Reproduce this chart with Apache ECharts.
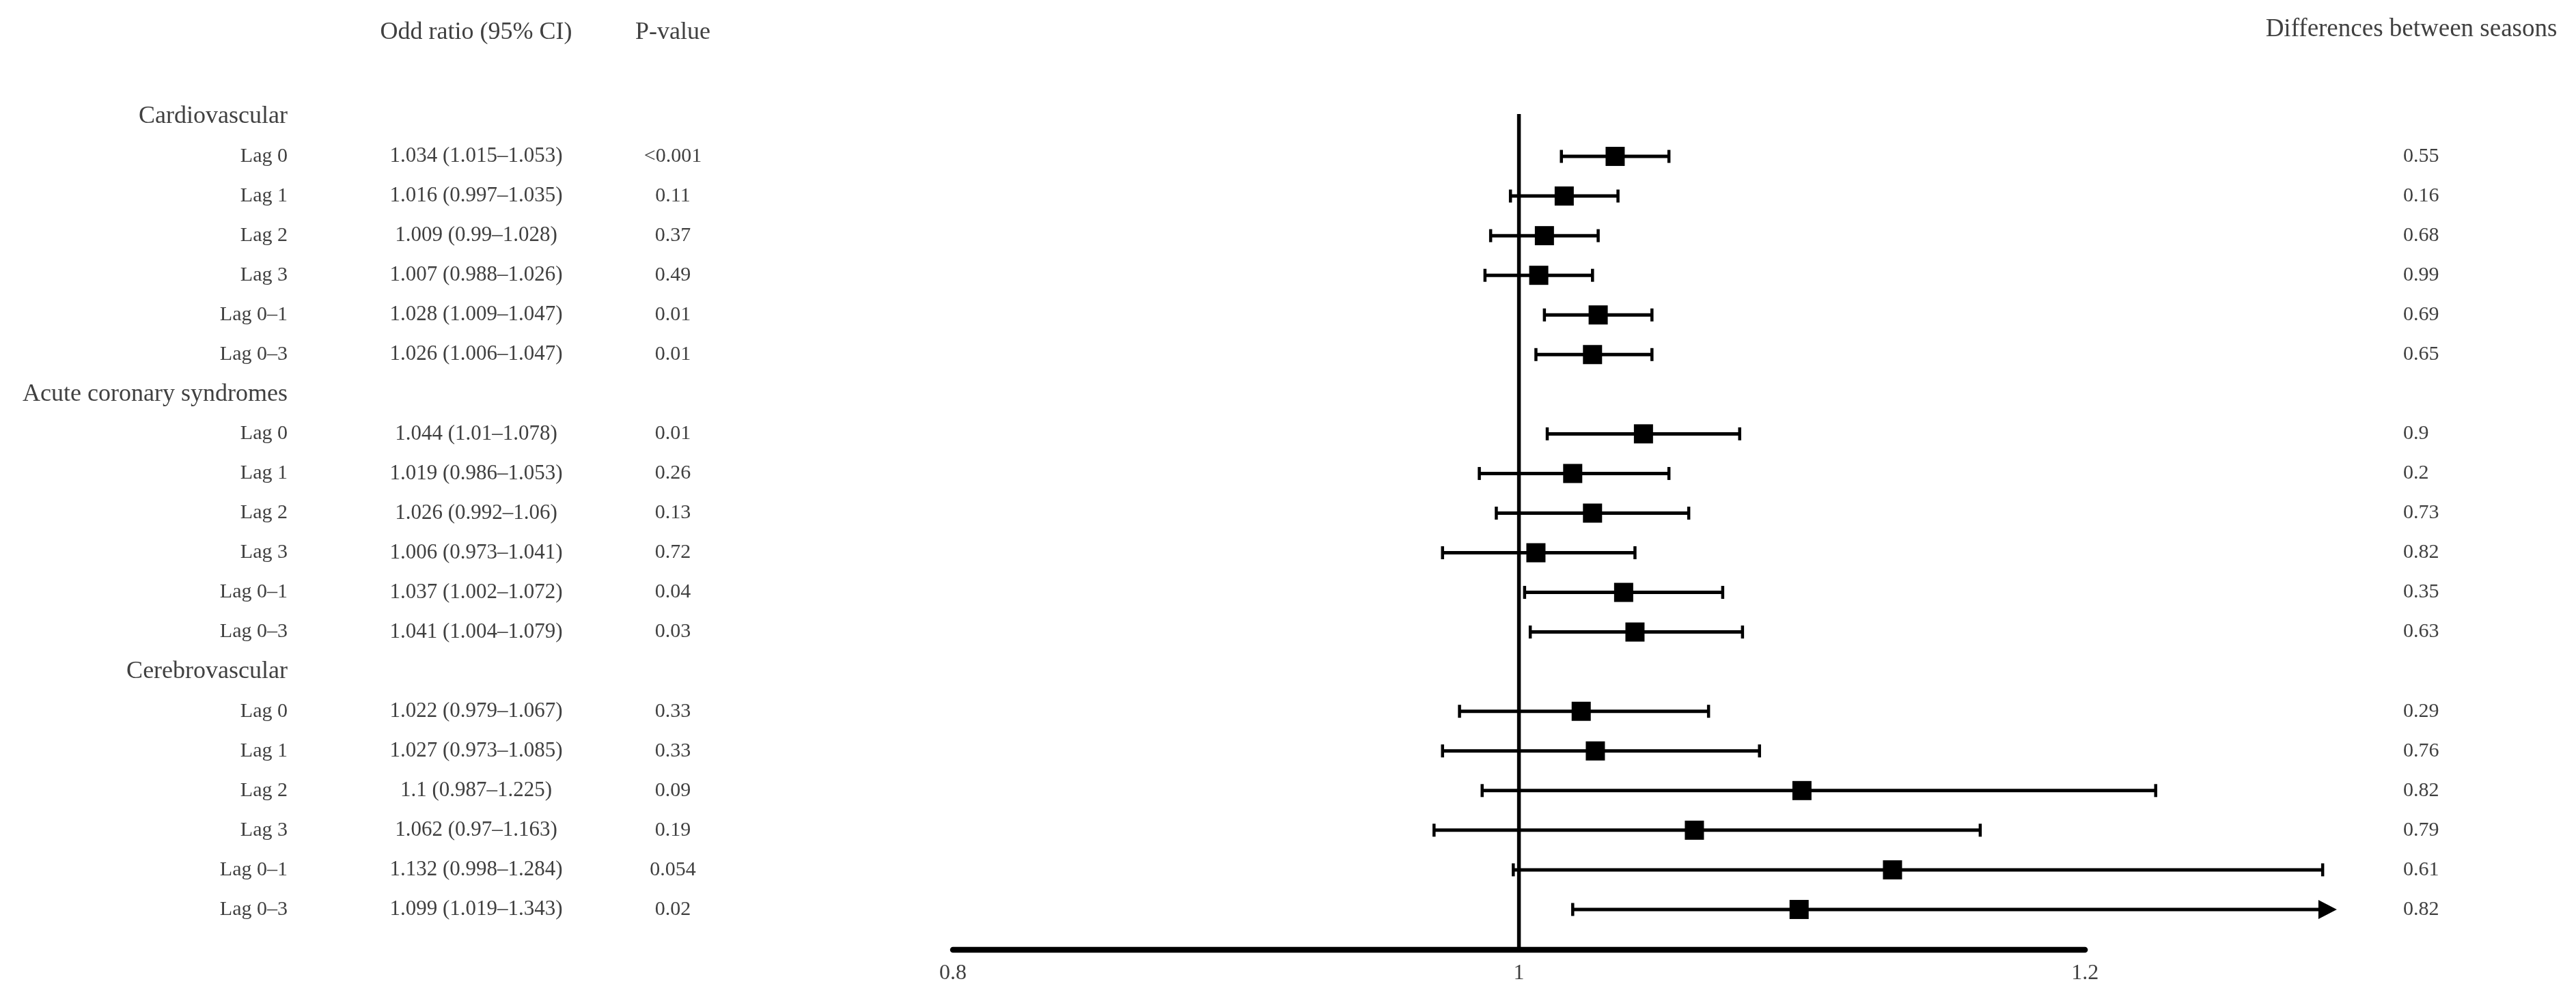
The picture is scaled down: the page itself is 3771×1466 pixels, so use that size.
<!DOCTYPE html>
<html>
<head>
<meta charset="utf-8">
<script src="https://cdn.jsdelivr.net/npm/echarts@6/dist/echarts.min.js"></script>
<style>
html,body{margin:0;padding:0;background:#ffffff;}
#chart{width:3771px;height:1466px;}
</style>
</head>
<body>
<div id="chart"></div>
<script>
// ---------------- data ----------------
const groups = ['Cardiovascular', 'Acute coronary syndromes', 'Cerebrovascular'];
const lags = ['Lag 0', 'Lag 1', 'Lag 2', 'Lag 3', 'Lag 0–1', 'Lag 0–3'];
const oddsRatio = [1.034, 1.016, 1.009, 1.007, 1.028, 1.026,
                   1.044, 1.019, 1.026, 1.006, 1.037, 1.041,
                   1.022, 1.027, 1.1, 1.062, 1.132, 1.099];
const ciLower = [1.015, 0.997, 0.99, 0.988, 1.009, 1.006,
                 1.01, 0.986, 0.992, 0.973, 1.002, 1.004,
                 0.979, 0.973, 0.987, 0.97, 0.998, 1.019];
const ciUpper = [1.053, 1.035, 1.028, 1.026, 1.047, 1.047,
                 1.078, 1.053, 1.06, 1.041, 1.072, 1.079,
                 1.067, 1.085, 1.225, 1.163, 1.284, 1.343];
const pValues = ['<0.001', '0.11', '0.37', '0.49', '0.01', '0.01',
                 '0.01', '0.26', '0.13', '0.72', '0.04', '0.03',
                 '0.33', '0.33', '0.09', '0.19', '0.054', '0.02'];
const seasonDiff = ['0.55', '0.16', '0.68', '0.99', '0.69', '0.65',
                    '0.9', '0.2', '0.73', '0.82', '0.35', '0.63',
                    '0.29', '0.76', '0.82', '0.79', '0.61', '0.82'];
const xTicks = [0.8, 1, 1.2];
const refValue = 1;
const columnHeaders = ['Odd ratio (95% CI)', 'P-value', 'Differences between seasons'];

// ---------------- layout / style ----------------
const FONT = "'Liberation Serif', 'Times New Roman', serif";
const TEXT_COLOR = '#404040';
const X_MIN = 0.8, X_MAX = 1.29, ARROW_LIMIT = 1.289;
const N_ROWS = 21; // axis line row
const COL_LABEL_RIGHT = 421, COL_OR_CENTER = 697, COL_P_CENTER = 985, COL_DIFF_LEFT = 3518;

const perGroup = lags.length;
function rowOf(i) { return Math.floor(i / perGroup) * (perGroup + 1) + 1 + (i % perGroup); }

const forestData = oddsRatio.map((v, i) => [rowOf(i), v, ciLower[i], ciUpper[i]]);
const headerData = groups.map((g, gi) => [X_MIN, gi * (perGroup + 1)]);
const rowTextData = oddsRatio.map((v, i) => [X_MIN, rowOf(i)]);

function txt(x, y, text, size, align) {
  return {
    type: 'text',
    style: {
      x: x, y: y, text: text,
      fontSize: size, fontFamily: FONT, fill: TEXT_COLOR,
      align: align, textAlign: align,
      verticalAlign: 'middle', textVerticalAlign: 'middle'
    }
  };
}

const chart = echarts.init(document.getElementById('chart'), null, {renderer: 'canvas'});

const option = {
  backgroundColor: '#ffffff',
  animation: false,
  grid: {left: 1395, right: 346, top: 171, bottom: 76, containLabel: false},
  xAxis: {
    type: 'value', min: X_MIN, max: X_MAX,
    axisLine: {show: false}, axisTick: {show: false}, splitLine: {show: false},
    axisLabel: {
      customValues: xTicks,
      margin: 20,
      fontSize: 32, fontFamily: FONT, color: TEXT_COLOR,
      formatter: v => String(+v.toFixed(3))
    }
  },
  yAxis: {
    type: 'value', min: 0, max: N_ROWS, inverse: true, show: false
  },
  graphic: [
    {type: 'text', x: COL_OR_CENTER, y: 48, style: {text: columnHeaders[0], fontSize: 36, fontFamily: FONT, fill: TEXT_COLOR, align: 'center', textAlign: 'center', verticalAlign: 'middle', textVerticalAlign: 'middle'}},
    {type: 'text', x: COL_P_CENTER, y: 48, style: {text: columnHeaders[1], fontSize: 36, fontFamily: FONT, fill: TEXT_COLOR, align: 'center', textAlign: 'center', verticalAlign: 'middle', textVerticalAlign: 'middle'}},
    {type: 'text', x: 3530, y: 43, style: {text: columnHeaders[2], fontSize: 37, fontFamily: FONT, fill: TEXT_COLOR, align: 'center', textAlign: 'center', verticalAlign: 'middle', textVerticalAlign: 'middle'}}
  ],
  series: [
    // horizontal axis line from 0.8 to 1.2
    {
      type: 'custom', silent: true, z: 3,
      data: [[xTicks[0], xTicks[xTicks.length - 1], N_ROWS]],
      renderItem: (params, api) => {
        const a = api.coord([api.value(0), api.value(2)]);
        const b = api.coord([api.value(1), api.value(2)]);
        return {type: 'line', shape: {x1: a[0], y1: a[1] + 1, x2: b[0], y2: b[1] + 1},
                style: {stroke: '#000', lineWidth: 8.5, lineCap: 'round'}};
      }
    },
    // reference line at 1
    {
      type: 'custom', silent: true, z: 2,
      data: [[refValue, -0.07, N_ROWS]],
      renderItem: (params, api) => {
        const a = api.coord([api.value(0), api.value(1)]);
        const b = api.coord([api.value(0), api.value(2)]);
        return {type: 'line', shape: {x1: a[0], y1: a[1], x2: b[0], y2: b[1]},
                style: {stroke: '#000', lineWidth: 5.5}};
      }
    },
    // CI bars + squares
    {
      type: 'custom', silent: true, z: 4,
      data: forestData,
      renderItem: (params, api) => {
        const row = api.value(0), est = api.value(1), lo = api.value(2), hi = api.value(3);
        const clipped = hi > ARROW_LIMIT;
        const pLo = api.coord([lo, row]);
        const pEst = api.coord([est, row]);
        const pHi = api.coord([clipped ? ARROW_LIMIT : hi, row]);
        const y = pLo[1];
        const ch = [];
        const lineEnd = clipped ? pHi[0] - 26 : pHi[0];
        ch.push({type: 'line', shape: {x1: pLo[0], y1: y, x2: lineEnd, y2: y}, style: {stroke: '#000', lineWidth: 5}});
        ch.push({type: 'line', shape: {x1: pLo[0], y1: y - 9.5, x2: pLo[0], y2: y + 9.5}, style: {stroke: '#000', lineWidth: 4.5}});
        if (clipped) {
          ch.push({type: 'polygon', shape: {points: [[pHi[0] - 27, y - 14], [pHi[0], y], [pHi[0] - 27, y + 14]]}, style: {fill: '#000'}});
        } else {
          ch.push({type: 'line', shape: {x1: pHi[0], y1: y - 9.5, x2: pHi[0], y2: y + 9.5}, style: {stroke: '#000', lineWidth: 4.5}});
        }
        ch.push({type: 'rect', shape: {x: pEst[0] - 14, y: y - 14, width: 28, height: 28}, style: {fill: '#000'}});
        return {type: 'group', children: ch};
      }
    },
    // group headers
    {
      type: 'custom', silent: true, z: 5,
      data: headerData,
      renderItem: (params, api) => {
        const p = api.coord([api.value(0), api.value(1)]);
        return txt(COL_LABEL_RIGHT, p[1], groups[params.dataIndex], 36, 'right');
      }
    },
    // table text rows
    {
      type: 'custom', silent: true, z: 5,
      data: rowTextData,
      renderItem: (params, api) => {
        const i = params.dataIndex;
        const y = api.coord([api.value(0), api.value(1)])[1];
        return {type: 'group', children: [
          txt(COL_LABEL_RIGHT, y, lags[i % perGroup], 30, 'right'),
          txt(COL_OR_CENTER, y, oddsRatio[i] + ' (' + ciLower[i] + '–' + ciUpper[i] + ')', 31, 'center'),
          txt(COL_P_CENTER, y, pValues[i], 30, 'center'),
          txt(COL_DIFF_LEFT, y, seasonDiff[i], 30, 'left')
        ]};
      }
    }
  ]
};
chart.setOption(option);
</script>
</body>
</html>
